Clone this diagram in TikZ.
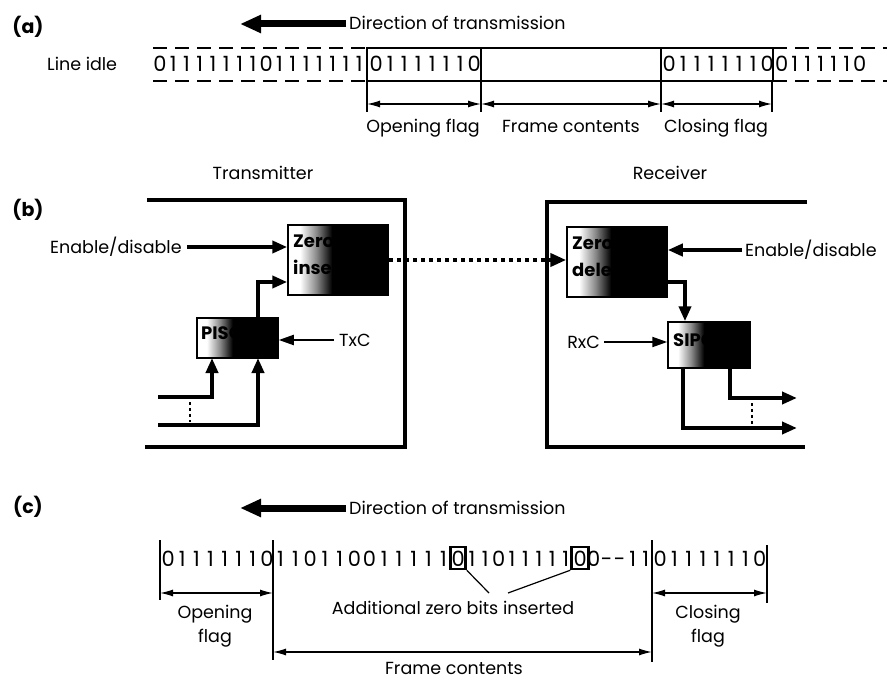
\documentclass[tikz,border=0pt]{standalone}
\usepackage{fontspec}
\setmainfont{Poppins}
\usetikzlibrary{arrows.meta}
\pgfdeclarehorizontalshading{boxshade}{100bp}{color(0bp)=(white); color(31bp)=(white); color(39bp)=(black!45); color(47bp)=(black); color(100bp)=(black)}
\newlength\bitpitch
\def\bitsloop#1{\ifx#1\relax\else\makebox[\bitpitch]{#1}\expandafter\bitsloop\fi}
\newcommand\bitstr[2]{\setlength\bitpitch{#1}\bitsloop#2\relax}
\begin{document}
\begin{tikzpicture}[x=1bp,y=-1bp,
  lab/.style={font=\fontsize{17.5bp}{24bp}\selectfont, inner sep=0},
  bitf/.style={font=\fontsize{21bp}{24bp}\selectfont, inner sep=0, anchor=base west},
  tag/.style={font=\bfseries\fontsize{19bp}{24bp}\selectfont, inner sep=0},
  dirarrow/.style={line width=7bp, -{Triangle[length=21bp,width=17bp]}},
  frameline/.style={line width=2.5bp},
  idleline/.style={line width=2.5bp, dash pattern=on 14bp off 8bp},
  dim/.style={line width=1.3bp, {Latex[length=13bp,width=7bp]}-{Latex[length=13bp,width=7bp]}},
  tickline/.style={line width=1.2bp},
  encl/.style={line width=4bp},
  fat/.style={line width=4bp, -{Triangle[length=15bp,width=12bp]}},
  slim/.style={line width=2bp, -{Triangle[length=15bp,width=10bp]}},
  pbox/.style={draw, line width=1.5bp, shade, shading=boxshade, inner sep=0},
  boxtxt/.style={font=\bfseries\fontsize{18bp}{27bp}\selectfont, inner sep=0, anchor=north west, align=left, text=black},
  hl/.style={draw, line width=2.5bp, inner sep=0, minimum width=15bp, minimum height=22bp},
]
\useasboundingbox (0,0) rectangle (887,682);

% ---------------- (a) ----------------
\node[tag] (ta) at (28,27) {(a)};
\coordinate (dAtail) at (346,24);
\coordinate (dAtip) at (240,24);
\draw[dirarrow] (dAtail) -- (dAtip);
\node[lab, anchor=base west] (dA) at (349,30) {Direction of transmission};

\node[lab, anchor=base west] (idle) at (47,71) {Line idle};
\node[bitf] (bL) at (153,72) {\bitstr{13.3bp}{0111111101111111}};
\node[bitf] (bOF) at (369,72) {\bitstr{14bp}{01111110}};
\node[bitf] (bCF) at (662,72) {\bitstr{14bp}{01111110}};
\node[bitf] (bR) at (775,72) {\bitstr{13bp}{0111110}};

\draw[idleline] (153,48) -- (367,48) (153,81) -- (367,81);
\draw[idleline] (773,48) -- (887,48) (773,81) -- (887,81);
\draw[frameline] (367,48) rectangle (773,81);
\draw[frameline] (481,48) -- (481,81) (661,48) -- (661,81);

\coordinate (t1) at (367,81); \coordinate (t2) at (481,81);
\coordinate (t3) at (661,81); \coordinate (t4) at (772,81);
\draw[tickline] (t1) -- ++(0,31) (t2) -- ++(0,31) (t3) -- ++(0,31) (t4) -- ++(0,31);
\draw[dim] (367,104) -- (481,104);
\draw[dim] (481,104) -- (661,104);
\draw[dim] (661,104) -- (772,104);
\node[lab, anchor=base] (lOF) at (423,133) {Opening flag};
\node[lab, anchor=base] (lFC) at (571,133) {Frame contents};
\node[lab, anchor=base] (lCF) at (716,133) {Closing flag};

% ---------------- (b) ----------------
\node[tag] (tb) at (28,210) {(b)};
\node[lab, anchor=base] (tx) at (263,179) {Transmitter};
\node[lab, anchor=base] (rx) at (670,179) {Receiver};
\draw[encl] (147,200) -- (405,200) -- (405,447) -- (145,447);
\draw[encl] (807,202) -- (547,202) -- (547,447) -- (805,447);

% transmitter boxes
\node[pbox, minimum width=100bp, minimum height=70bp] (zi) at (338,260) {};
\node[boxtxt] (zit) at (293,235) {Zero\\insertion};
\node[pbox, minimum width=81bp, minimum height=40bp] (piso) at (237.5,338) {};
\node[boxtxt] (pisot) at (201,326) {PISO};

% receiver boxes
\node[pbox, minimum width=100bp, minimum height=70bp] (zd) at (617,262) {};
\node[boxtxt] (zdt) at (572,237) {Zero\\deletion};
\node[pbox, minimum width=82bp, minimum height=46bp] (sipo) at (709,345) {};
\node[boxtxt] (sipot) at (673,333) {SIPO};

% transmitter connectors
\node[lab, anchor=base west] (enL) at (50,253) {Enable/disable};
\coordinate (enLs) at (187,247);
\draw[fat] (enLs) -- (enLs -| zi.west);
\coordinate (pz) at (258,282);
\draw[fat] (pz |- piso.north) -- (pz) -- (pz -| zi.west);
\node[lab, anchor=west] (txc) at (339,340) {TxC};
\coordinate (txcs) at (334,340);
\draw[slim] (txcs) -- (txcs -| piso.east);
\coordinate (in1) at (158,397);
\coordinate (in2) at (158,425);
\draw[fat] (in1) -| (212,358);
\draw[fat] (in2) -| (258,358);
\draw[line width=1.2bp, dashed] (190,402) -- (190,422);

% dotted link
\draw[line width=4bp, dash pattern=on 4bp off 4bp, -{Triangle[length=16bp,width=13bp]}] (zi.east |- 0,260) -- (zd.west |- 0,260);

% receiver connectors
\node[lab, anchor=base west] (enR) at (745,256) {Enable/disable};
\coordinate (enRs) at (742,250);
\draw[fat] (enRs) -- (enRs -| zd.east);
\coordinate (zs) at (685,282);
\draw[fat] (zs -| zd.east) -- (zs) -- (zs |- sipo.north);
\node[lab, anchor=east] (rxc) at (600,342) {RxC};
\coordinate (rxcs) at (604,342);
\draw[slim] (rxcs) -- (rxcs -| sipo.west);
\coordinate (o1) at (797,398);
\coordinate (o2) at (797,428);
\draw[fat] (730,368) |- (o1);
\draw[fat] (683,368) |- (o2);
\draw[line width=1.2bp, dashed] (752,403) -- (752,424);

% ---------------- (c) ----------------
\node[tag] (tc) at (28,507) {(c)};
\coordinate (dCtail) at (346,508);
\coordinate (dCtip) at (240,508);
\draw[dirarrow] (dCtail) -- (dCtip);
\node[lab, anchor=base west] (dC) at (349,514) {Direction of transmission};

\node[bitf] (cOF) at (161,566) {\bitstr{14.1bp}{01111110}};
\node[bitf] (cA) at (273,566) {\bitstr{14.8bp}{110110011111}};
\node[bitf] (cZ1) at (451,566) {\bitstr{14bp}{0}};
\node[bitf] (cB) at (465,566) {\bitstr{13.4bp}{11011111}};
\node[bitf] (cZ2) at (573,566) {\bitstr{14bp}{0}};
\node[bitf] (cC) at (587,566) {\bitstr{13bp}{0--11}};
\node[bitf] (cCF) at (653,566) {\bitstr{14.2bp}{01111110}};

\node[hl] (hb1) at (458,558) {};
\node[hl, minimum width=17bp] (hb2) at (580,558) {};

\draw[tickline] (160,540) -- (160,600);
\draw[tickline] (273,540) -- (273,660);
\draw[tickline] (652,540) -- (652,662);
\draw[tickline] (767,545) -- (767,603);
\draw[dim] (160,593) -- (273,593);
\draw[dim] (652,593) -- (767,593);
\draw[dim] (273,652) -- (652,652);

\coordinate (ad1) at (489,593);
\coordinate (ad2) at (508,593);
\draw[line width=1.2bp] (hb1.south east) -- (ad1);
\draw[line width=1.2bp] (hb2.south west) -- (ad2);
\node[lab, anchor=base] (ad) at (453,614) {Additional zero bits inserted};

\node[lab, align=center, anchor=north] (cOFl) at (215,605) {Opening\\flag};
\node[lab, align=center, anchor=north] (cCFl) at (708,605) {Closing\\flag};
\node[lab, anchor=base] (cFC) at (454,674) {Frame contents};
\end{tikzpicture}
\end{document}
